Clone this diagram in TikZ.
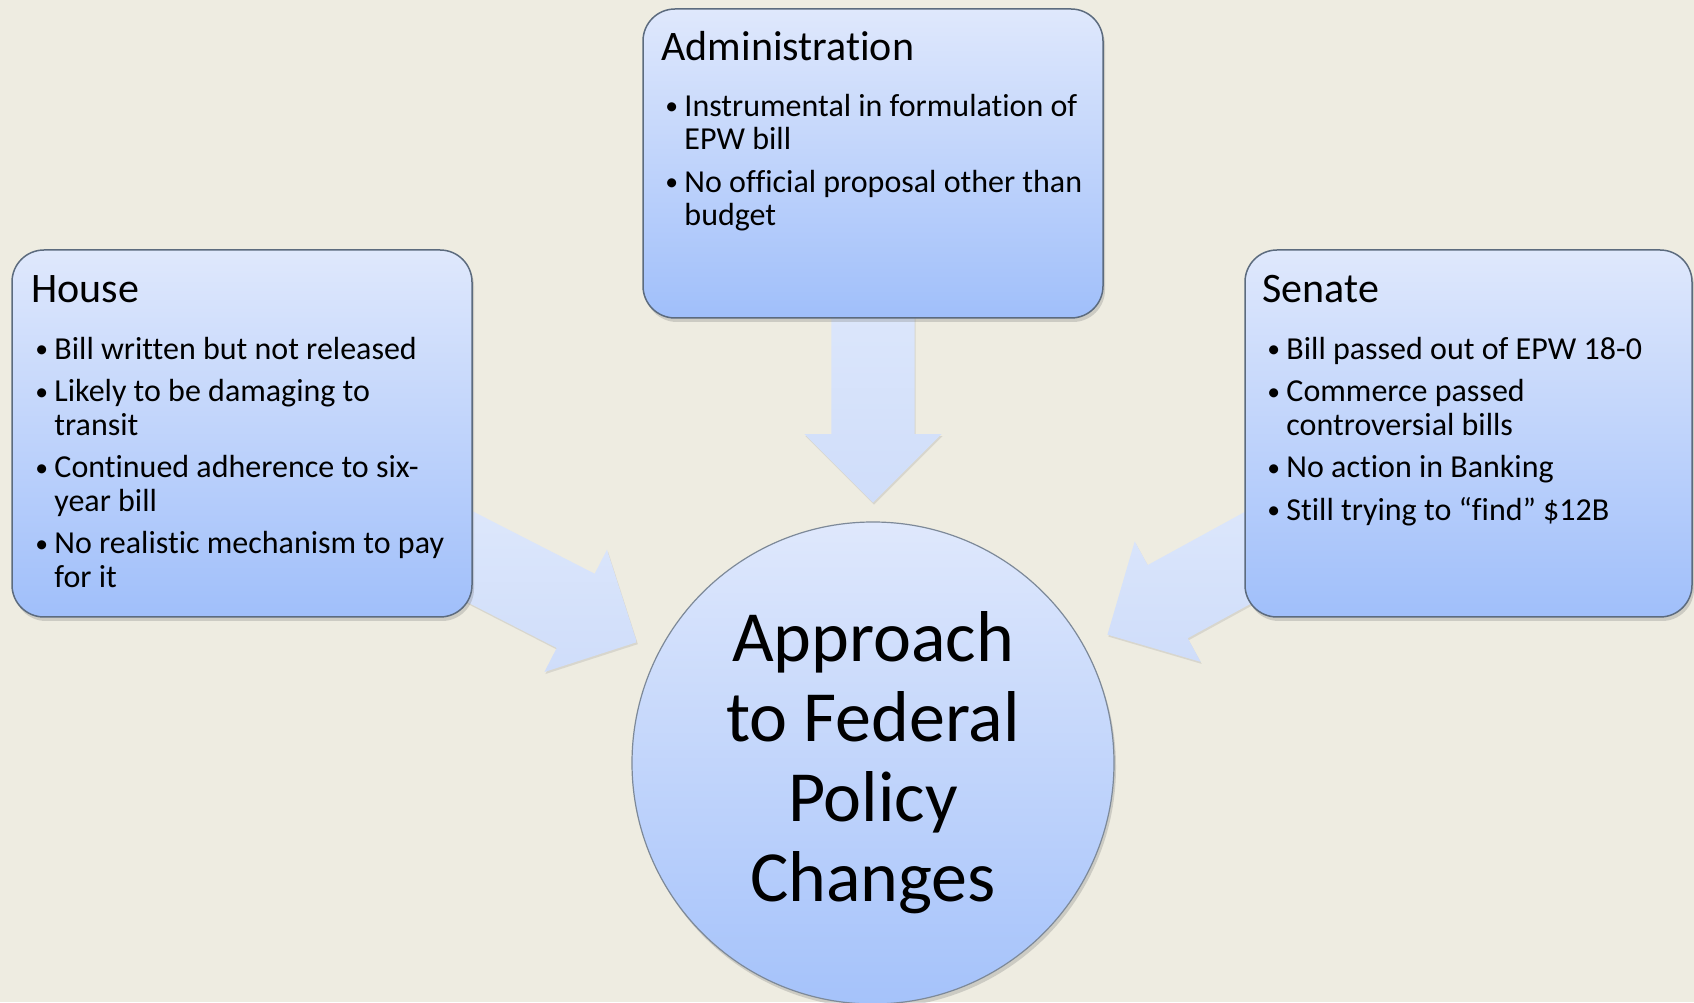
\documentclass[tikz,border=0pt]{standalone}
\usepackage{fontspec}
\setmainfont{Carlito}[Ligatures={NoCommon,NoContextual,NoRequired},Contextuals=NoAlternate]
\usetikzlibrary{calc,shapes.arrows,shadows}

\definecolor{paper}{HTML}{EEECE1}
\definecolor{boxtop}{HTML}{DFE8FC}
\definecolor{boxbot}{HTML}{A0BFFA}
\definecolor{arrowtop}{HTML}{DEE8FB}
\definecolor{arrowbot}{HTML}{CFDDFA}
\definecolor{rim}{HTML}{5C6B7E}

\pgfdeclarelayer{back}
\pgfsetlayers{back,main}

\newcommand{\bodyfont}{\fontsize{32pt}{33.5pt}\selectfont}
\newcommand{\dotmark}{\makebox[21pt][l]{\hspace{2pt}\raisebox{1.5pt}{\scalebox{0.8}{\textbullet}}}}
\newcommand{\bfirst}[1]{\noindent\hangindent=21pt\hangafter=1\dotmark#1\par}
\newcommand{\bnext}[1]{\vspace{9pt}\bfirst{#1}}

\begin{document}
\begin{tikzpicture}[x=1pt,y=1pt,
  panel/.style={rounded corners=32pt,draw=rim,line width=1.5pt,
    top color=boxtop,bottom color=boxbot,inner sep=0pt,
    drop shadow={shadow xshift=2pt,shadow yshift=-4pt,opacity=0.3}},
  hub/.style={circle,draw=rim!80,line width=1.2pt,inner sep=0pt,
    top color=boxtop,bottom color=boxbot!95!white,minimum size=482pt,
    drop shadow={shadow xshift=2pt,shadow yshift=-4pt,opacity=0.3}},
  bigarrow/.style={single arrow,single arrow head extend=27pt,
    single arrow tip angle=90,inner xsep=0pt,inner ysep=41.5pt,
    top color=arrowtop,bottom color=arrowbot,anchor=tip,
    drop shadow={shadow xshift=1pt,shadow yshift=-2pt,opacity=0.2}},
  head/.style={anchor=base west,inner sep=0pt,font=\fontsize{42pt}{48pt}\selectfont},
  body/.style={anchor=base west,inner sep=0pt}]

\useasboundingbox (0,0) rectangle (1694,1002);
\begin{pgfonlayer}{back}
\fill[paper] (0,0) rectangle (1694,1002);
\end{pgfonlayer}

% centre
\node[hub] (focus) at (873,239) {};
\node[inner sep=0pt,anchor=base] (focustext) at ($(focus.center)+(0,101)$)
  {\begin{minipage}[t]{520pt}\centering\fontsize{72pt}{80pt}\selectfont
   Approach\\ to Federal\\ Policy\\ Changes\end{minipage}};

% House
\node[panel,minimum width=460pt,minimum height=367pt] (house) at (242,568.5) {};
\node[head] (househead) at ($(house.north west)+(20,-53)$) {House};
\node[body] (housetext) at ($(house.north west)+(22,-110)$)
  {\begin{minipage}[t]{440pt}\bodyfont
   \bfirst{Bill written but not released}
   \bnext{Likely to be damaging to\newline transit}
   \bnext{Continued adherence to six-\newline year bill}
   \bnext{No realistic mechanism to pay\newline for it}
   \end{minipage}};

% Administration
\node[panel,minimum width=460pt,minimum height=309pt] (admin) at (873,838.5) {};
\node[head] (adminhead) at ($(admin.north west)+(19,-52)$) {Administration};
\node[body] (admintext) at ($(admin.north west)+(21,-108)$)
  {\begin{minipage}[t]{440pt}\bodyfont
   \bfirst{Instrumental in formulation of\newline EPW bill}
   \bnext{No official proposal other than\newline budget}
   \end{minipage}};

% Senate
\node[panel,minimum width=447pt,minimum height=367pt] (senate) at (1468.5,568.5) {};
\node[head] (senatehead) at ($(senate.north west)+(18,-53)$) {Senate};
\node[body] (senatetext) at ($(senate.north west)+(21,-110)$)
  {\begin{minipage}[t]{420pt}\bodyfont
   \bfirst{Bill passed out of EPW 18-0}
   \bnext{Commerce passed\newline controversial bills}
   \bnext{No action in Banking}
   \bnext{Still trying to “find” \$12B}
   \end{minipage}};

% block arrows into the centre
\begin{pgfonlayer}{back}
\node[bigarrow,rotate=-90,minimum height=230pt] (adminarrow) at ($(focus.center)+(90:260)$) {};
\node[bigarrow,rotate=-27.1,minimum height=250pt] (housearrow) at ($(focus.center)+(152.9:265)$) {};
\node[bigarrow,rotate=208.7,minimum height=250pt] (senatearrow) at ($(focus.center)+(28.7:267)$) {};
\end{pgfonlayer}
\end{tikzpicture}
\end{document}
